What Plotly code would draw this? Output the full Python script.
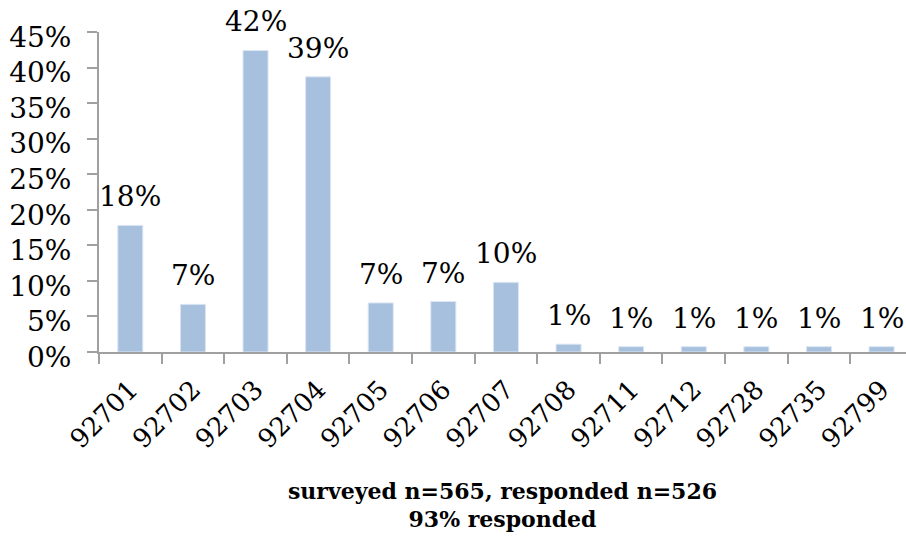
import plotly.graph_objects as go

# Share of respondents by ZIP code
zip_codes = ["92701", "92702", "92703", "92704", "92705", "92706", "92707",
             "92708", "92711", "92712", "92728", "92735", "92799"]
shares = [0.178, 0.067, 0.424, 0.387, 0.069, 0.071, 0.098,
          0.011, 0.0075, 0.0075, 0.0075, 0.0075, 0.0075]
y_ticks = [0, 0.05, 0.10, 0.15, 0.20, 0.25, 0.30, 0.35, 0.40, 0.45]
x_title = "<b>surveyed n=565, responded n=526<br>93% responded</b>"

FONT = "DejaVu Serif"
AXIS_GREY = "#A0A0A0"

fig = go.Figure(
    go.Bar(
        x=zip_codes,
        y=shares,
        width=0.4,
        marker=dict(color="#A7C0DE", line=dict(color="#DCE6F2", width=1)),
        hoverinfo="skip",
    )
)

# value labels above each bar (category axis -> position by index)
for i, v in enumerate(shares):
    fig.add_annotation(
        x=i, y=v, text=f"{v:.0%}", showarrow=False,
        yanchor="bottom", yshift=10,
        font=dict(family=FONT, size=28, color="#000000"),
    )

fig.update_layout(
    width=906, height=536,
    margin=dict(l=99, r=0, t=32, b=184),
    paper_bgcolor="white", plot_bgcolor="white",
    showlegend=False,
    font=dict(family=FONT, size=26, color="#000000"),
)

fig.update_xaxes(
    type="category",
    range=[-0.5, 12.39],
    showline=True, linecolor=AXIS_GREY, linewidth=2,
    ticks="outside", tickson="boundaries", ticklen=10, tickcolor=AXIS_GREY, tickwidth=2,
    tickangle=-45,
    ticklabelstandoff=10,
    tickfont=dict(family=FONT, size=26),
    showgrid=False, zeroline=False,
    title=dict(text=x_title, font=dict(family=FONT, size=22), standoff=30),
)

fig.update_yaxes(
    range=[0, 0.45],
    tickvals=y_ticks,
    tickformat=".0%",
    showline=True, linecolor=AXIS_GREY, linewidth=2,
    ticks="outside", ticklen=10, tickcolor=AXIS_GREY, tickwidth=2,
    ticklabelstandoff=10,
    ticklabelshift=5,
    tickfont=dict(family=FONT, size=28),
    showgrid=False, zeroline=False,
)

fig.write_html("out.html")
